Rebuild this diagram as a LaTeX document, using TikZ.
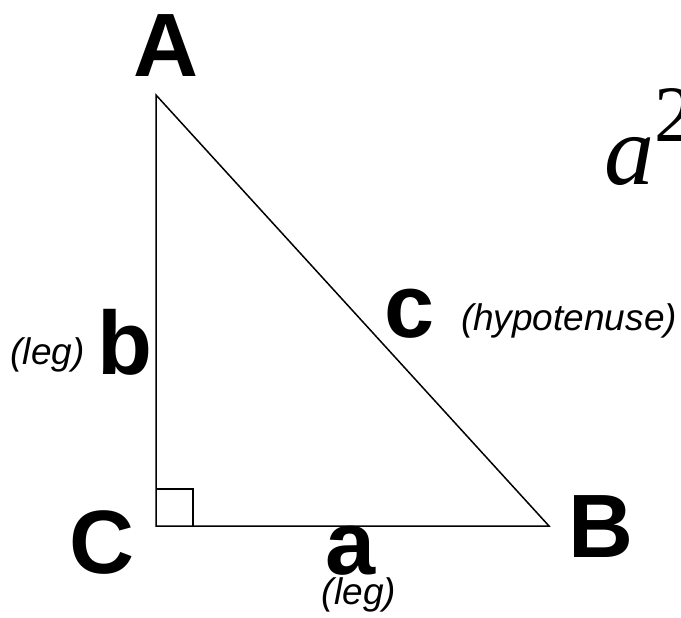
\documentclass[tikz,border=0pt]{standalone}
\usepackage{fontspec}
\setmainfont{Liberation Sans}
\newfontfamily\timesfont{Liberation Serif}
\begin{document}
\begin{tikzpicture}[x=1pt,y=-1pt,
  vertex/.style={inner sep=0pt,anchor=base,font=\fontsize{90}{90}\selectfont\bfseries},
  note/.style={inner sep=0pt,anchor=base,font=\fontsize{37}{37}\selectfont\itshape},
  edge/.style={line width=1.5pt,line join=miter}]
\useasboundingbox (0,0) rectangle (681,618);
\clip (0,0) rectangle (681,618);
\coordinate (A) at (156,95);
\coordinate (C) at (156,526);
\coordinate (B) at (549,526);
\draw[edge] (A) -- (B) -- (C) -- cycle;
\coordinate (sq1) at (156,489);
\coordinate (sq2) at (193,489);
\coordinate (sq3) at (193,526);
\draw[edge] (sq1) -- (sq2) -- (sq3);
\node[vertex] (lA) at (165.5,77) {A};
\node[vertex] (lB) at (601,557) {B};
\node[vertex] (lC) at (102,573) {C};
\node[vertex] (la) at (351,574) {a};
\node[vertex] (lb) at (125,374) {b};
\node[vertex] (lc) at (410,337) {c};
\node[note] (na) at (359,604) {(leg)};
\node[note] (nb) at (47.5,364) {(leg)};
\node[note] (nc) at (569,330) {(hypotenuse)};
\node[inner sep=0pt,anchor=base west] (eq) at (604,184)
  {\timesfont\fontsize{100}{100}\selectfont\itshape a\raisebox{43pt}{\upshape\fontsize{80}{80}\selectfont 2}};
\end{tikzpicture}
\end{document}
